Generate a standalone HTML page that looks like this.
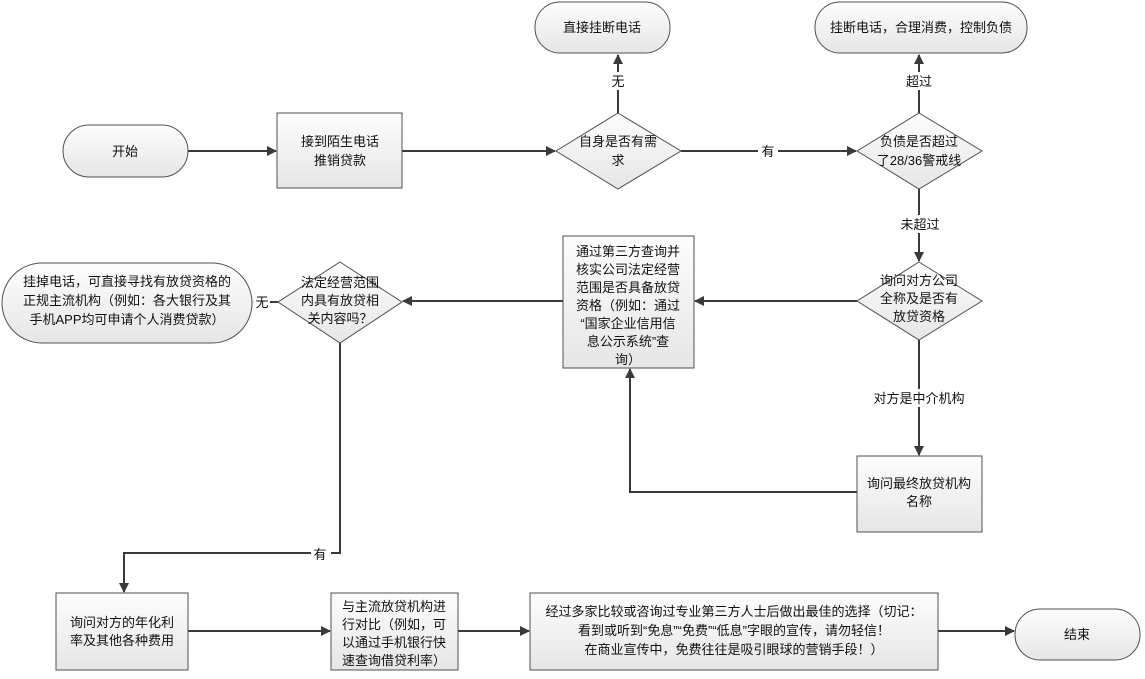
<!DOCTYPE html>
<html><head><meta charset="utf-8"><style>
body{margin:0;background:#fff}
svg{display:block}
text{font-family:"Liberation Sans","Noto Sans CJK SC",sans-serif;font-size:13px;fill:#111;text-anchor:middle}
.s{stroke:#505050;stroke-width:1;fill:url(#g)}
.l{stroke:#3a3a3a;stroke-width:2;fill:none}
</style></head><body>
<svg width="1145" height="679" viewBox="0 0 1145 679">
<defs>
<linearGradient id="g" x1="0" y1="0" x2="0" y2="1"><stop offset="0" stop-color="#fdfdfd"/><stop offset="1" stop-color="#e6e6e6"/></linearGradient>
<marker id="a" markerWidth="10" markerHeight="10" refX="9" refY="5" orient="auto" markerUnits="userSpaceOnUse"><path d="M0,0L10,5L0,10z" fill="#3a3a3a"/></marker>
</defs>
<!-- connectors -->
<path class="l" d="M188,151H276" marker-end="url(#a)"/>
<path class="l" d="M402,151H555" marker-end="url(#a)"/>
<path class="l" d="M681,151H856" marker-end="url(#a)"/>
<path class="l" d="M618,113V55" marker-end="url(#a)"/>
<path class="l" d="M919,113V55" marker-end="url(#a)"/>
<path class="l" d="M919,189V261" marker-end="url(#a)"/>
<path class="l" d="M857,301H695" marker-end="url(#a)"/>
<path class="l" d="M563,301H403" marker-end="url(#a)"/>
<path class="l" d="M278,302H254" marker-end="url(#a)"/>
<path class="l" d="M919,340V455" marker-end="url(#a)"/>
<path class="l" d="M857,492H630V369" marker-end="url(#a)"/>
<path class="l" d="M340,343V553H124V592" marker-end="url(#a)"/>
<path class="l" d="M188,631H330" marker-end="url(#a)"/>
<path class="l" d="M458,631H529" marker-end="url(#a)"/>
<path class="l" d="M938,631H1014" marker-end="url(#a)"/>
<!-- labels on lines -->
<rect x="609" y="72" width="18" height="18" fill="#fff"/><text x="618" y="86">无</text>
<rect x="758" y="142" width="20" height="18" fill="#fff"/><text x="768" y="156">有</text>
<rect x="902" y="72" width="36" height="18" fill="#fff"/><text x="919" y="86">超过</text>
<rect x="897" y="215" width="46" height="18" fill="#fff"/><text x="920" y="229">未超过</text>
<rect x="868" y="389" width="102" height="18" fill="#fff"/><text x="919" y="403">对方是中介机构</text>
<rect x="254" y="294" width="16" height="16" fill="#fff"/><text x="262" y="307">无</text>
<rect x="311" y="545" width="20" height="18" fill="#fff"/><text x="320" y="559">有</text>
<!-- shapes -->
<rect class="s" x="63" y="125" width="125" height="52" rx="26"/><text x="125" y="156">开始</text>
<rect class="s" x="277" y="113" width="125" height="75"/><text x="340" y="146">接到陌生电话</text><text x="340" y="165">推销贷款</text>
<path class="s" d="M618,113L681,151L618,189L556,151z"/><text x="618" y="146">自身是否有需</text><text x="618" y="165">求</text>
<rect class="s" x="535" y="2" width="135" height="51" rx="25"/><text x="602" y="32">直接挂断电话</text>
<path class="s" d="M919,113L982,151L919,189L857,151z"/><text x="919" y="146">负债是否超过</text><text x="919" y="165">了28/36警戒线</text>
<rect class="s" x="815" y="2" width="212" height="51" rx="25"/><text x="921" y="32">挂断电话，合理消费，控制负债</text>
<path class="s" d="M919,262L982,301L919,340L857,301z"/><text x="919" y="285">询问对方公司</text><text x="919" y="303">全称及是否有</text><text x="919" y="321">放贷资格</text>
<rect class="s" x="563" y="236" width="131" height="132"/>
<text x="628" y="256">通过第三方查询并</text><text x="628" y="274">核实公司法定经营</text><text x="628" y="292">范围是否具备放贷</text><text x="628" y="310">资格（例如：通过</text><text x="628" y="328">“国家企业信用信</text><text x="628" y="346">息公示系统”查</text><text x="628" y="364">询）</text>
<path class="s" d="M340,262L402,302L340,343L278,302z"/><text x="340" y="287">法定经营范围</text><text x="340" y="305">内具有放贷相</text><text x="340" y="323">关内容吗？</text>
<rect class="s" x="2" y="263" width="250" height="80" rx="40"/><text x="127" y="286">挂掉电话，可直接寻找有放贷资格的</text><text x="127" y="305">正规主流机构（例如：各大银行及其</text><text x="127" y="324">手机APP均可申请个人消费贷款）</text>
<rect class="s" x="857" y="456" width="125" height="76"/><text x="919" y="488">询问最终放贷机构</text><text x="919" y="506">名称</text>
<rect class="s" x="56" y="593" width="132" height="77"/><text x="122" y="627">询问对方的年化利</text><text x="122" y="645">率及其他各种费用</text>
<rect class="s" x="331" y="593" width="127" height="77"/><text x="394" y="611">与主流放贷机构进</text><text x="394" y="629">行对比（例如，可</text><text x="394" y="647">以通过手机银行快</text><text x="394" y="665">速查询借贷利率）</text>
<rect class="s" x="530" y="593" width="408" height="77"/><text x="734" y="616">经过多家比较或咨询过专业第三方人士后做出最佳的选择（切记：</text><text x="734" y="635">看到或听到“免息”“免费”“低息”字眼的宣传，请勿轻信！</text><text x="734" y="654">在商业宣传中，免费往往是吸引眼球的营销手段！）</text>
<rect class="s" x="1015" y="609" width="125" height="51" rx="25"/><text x="1077" y="639">结束</text>
</svg>
</body></html>
